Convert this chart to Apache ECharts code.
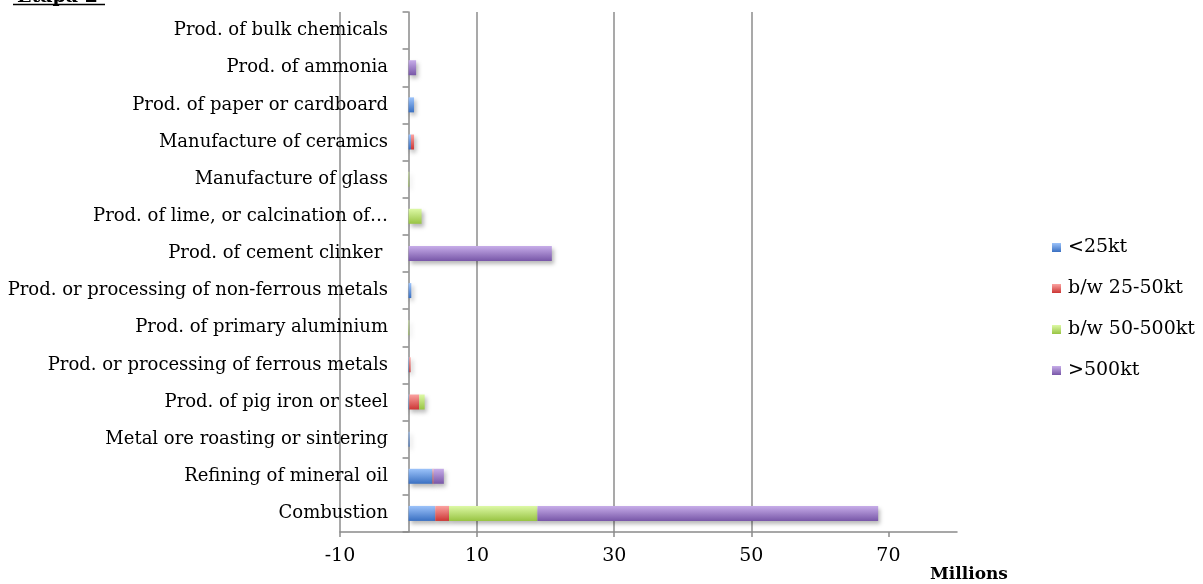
<!DOCTYPE html>
<html>
<head>
<meta charset="utf-8">
<title>Etapa 2</title>
<script src="https://cdn.jsdelivr.net/npm/echarts@6/dist/echarts.min.js"></script>
<style>
  html, body { margin: 0; padding: 0; background: #fff; }
  #chart { width: 1203px; height: 584px; }
</style>
</head>
<body>
<div id="chart"></div>
<script>
// Installations by sector, emissions in millions, stacked by installation size
const categories = [
  'Combustion',
  'Refining of mineral oil',
  'Metal ore roasting or sintering',
  'Prod. of pig iron or steel',
  'Prod. or processing of ferrous metals',
  'Prod. of primary aluminium',
  'Prod. or processing of non-ferrous metals',
  'Prod. of cement clinker ',
  'Prod. of lime, or calcination of…',
  'Manufacture of glass',
  'Manufacture of ceramics',
  'Prod. of paper or cardboard',
  'Prod. of ammonia',
  'Prod. of bulk chemicals'
];

const seriesNames = ['<25kt', 'b/w 25-50kt', 'b/w 50-500kt', '>500kt'];

const under25kt   = [3.9, 3.5, 0.15, 0.1, 0.1, 0,   0.4, 0,    0,   0,   0.35, 0.8, 0,   0];
const from25to50  = [2.0, 0.15, 0,   1.45, 0.2, 0,  0,   0,    0,   0,   0.45, 0,   0,   0];
const from50to500 = [12.9, 0,   0,   0.8, 0,   0.1, 0,   0,    1.9, 0.1, 0,    0,   0,   0];
const over500kt   = [49.7, 1.5, 0,   0,   0,   0,   0,   20.9, 0,   0,   0,    0,   1.1, 0];

const tickValues = [-10, 10, 30, 50, 70];

const chart = echarts.init(document.getElementById('chart'), null, { renderer: 'canvas' });

const serif = 'DejaVu Serif';
const shades = [
  ['#9cc3fa', '#3a70c2'],
  ['#fba3a1', '#cc3634'],
  ['#ddf9a6', '#98c443'],
  ['#c7ade9', '#7857a8']
];

function barSeries(name, values, idx) {
  return {
    name: name,
    type: 'bar',
    stack: 'total',
    barWidth: 15,
    data: values,
    itemStyle: {
      color: new echarts.graphic.LinearGradient(0, 0, 0, 1, [
        { offset: 0, color: shades[idx][0] },
        { offset: 1, color: shades[idx][1] }
      ]),
      shadowColor: 'rgba(0,0,0,0.28)',
      shadowBlur: 4,
      shadowOffsetX: 2,
      shadowOffsetY: 3
    },
    emphasis: { disabled: true }
  };
}

chart.setOption({
  animation: false,
  backgroundColor: '#fff',
  grid: { left: 340, right: 246, top: 12, bottom: 52, containLabel: false, outerBoundsMode: 'none' },
  title: [{
    text: 'Etapa 2',
    left: 12,
    top: -17,
    textStyle: { fontFamily: serif, fontWeight: 'bold', fontSize: 19, color: '#000' }
  }, {
    text: 'Millions',
    left: 930,
    top: 566,
    padding: 0,
    textStyle: { fontFamily: serif, fontWeight: 'bold', fontSize: 17, color: '#000' }
  }],
  graphic: [{
    type: 'line',
    shape: { x1: 13, y1: 4.5, x2: 105, y2: 4.5 },
    style: { stroke: '#000', lineWidth: 1.5 }
  }],
  legend: {
    orient: 'vertical',
    left: 1047,
    top: 233,
    itemGap: 22,
    itemWidth: 9,
    itemHeight: 9,
    icon: 'rect',
    data: seriesNames,
    textStyle: { fontFamily: serif, fontSize: 19, color: '#000', padding: [0, 0, 0, 2] }
  },
  xAxis: {
    type: 'value',
    min: -10,
    max: 80,
    interval: 20,
    axisLine: { show: true, lineStyle: { color: '#8a8a8a', width: 1.5 } },
    axisTick: { show: true, length: 5, customValues: tickValues, lineStyle: { color: '#8a8a8a', width: 1.5 } },
    axisLabel: {
      customValues: tickValues,
      margin: 15,
      fontFamily: serif,
      fontSize: 19,
      color: '#000'
    },
    splitLine: { show: true, showMaxLine: false, lineStyle: { color: '#8c8c8c', width: 1.5 } }
  },
  yAxis: {
    type: 'category',
    data: categories,
    axisLine: { show: true, onZero: true, lineStyle: { color: '#8a8a8a', width: 1.5 } },
    axisTick: { show: true, length: 6, lineStyle: { color: '#8a8a8a', width: 1.5 } },
    // labels sit just left of the zero line, not the plot's left edge
    axisLabel: { margin: -48, fontFamily: serif, fontSize: 18, color: '#000' },
    splitLine: { show: false }
  },
  series: [
    barSeries(seriesNames[0], under25kt, 0),
    barSeries(seriesNames[1], from25to50, 1),
    barSeries(seriesNames[2], from50to500, 2),
    barSeries(seriesNames[3], over500kt, 3)
  ]
});
</script>
</body>
</html>
